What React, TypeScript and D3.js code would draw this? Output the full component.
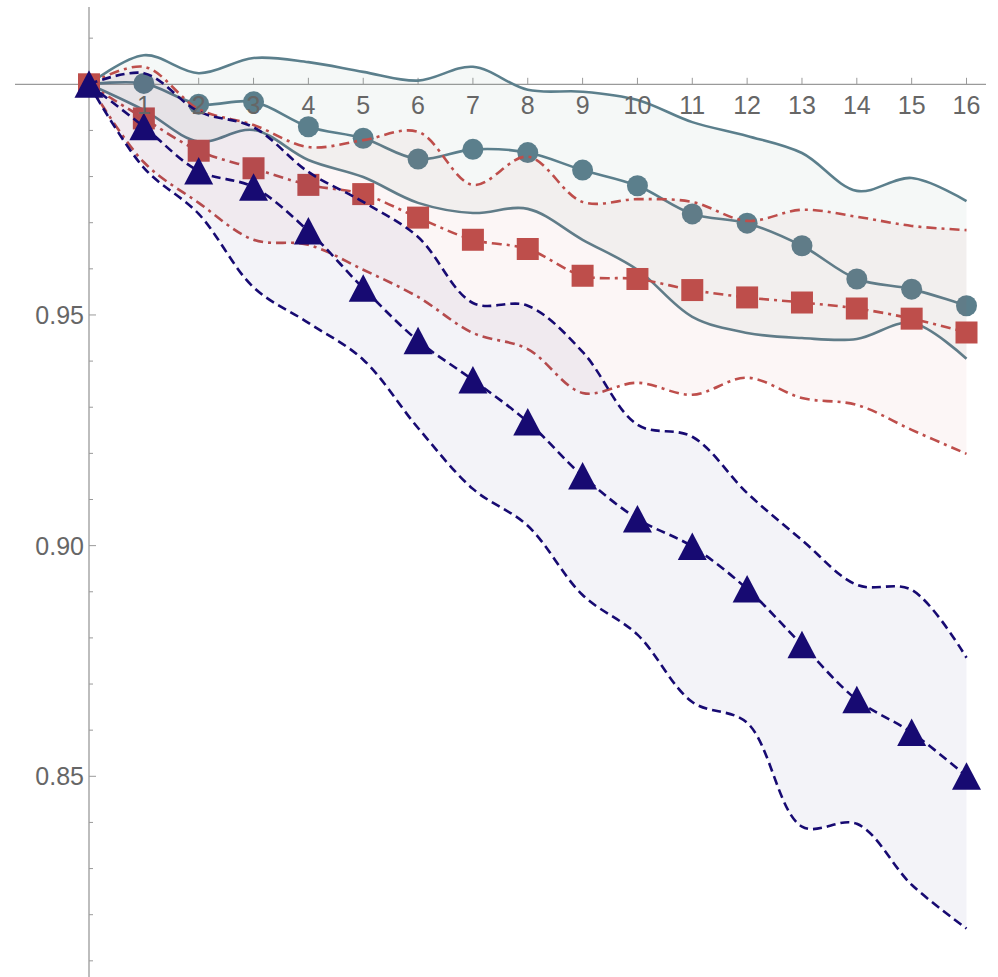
import * as d3 from "d3";

const W = 998;
const H = 977;

const steps = [0, 1, 2, 3, 4, 5, 6, 7, 8, 9, 10, 11, 12, 13, 14, 15, 16];

const circleMean = [1.0, 1.0002, 0.9957, 0.9962, 0.9908, 0.9883, 0.9838, 0.9859, 0.9852, 0.9814, 0.978, 0.9719, 0.9699, 0.965, 0.9578, 0.9556, 0.952];
const circleUpper = [1.0, 1.0063, 1.0024, 1.0057, 1.0048, 1.0027, 1.0008, 1.0038, 0.9988, 0.9984, 0.9966, 0.9918, 0.9888, 0.9851, 0.9769, 0.9797, 0.9747];
const circleLower = [1.0, 0.9944, 0.9876, 0.9901, 0.9836, 0.9799, 0.9743, 0.9721, 0.973, 0.9663, 0.9598, 0.9496, 0.9461, 0.945, 0.9448, 0.9483, 0.9405];

const squareMean = [1.0, 0.9926, 0.9856, 0.9818, 0.9782, 0.9762, 0.9711, 0.9663, 0.9643, 0.9585, 0.9578, 0.9554, 0.9538, 0.9527, 0.9514, 0.9492, 0.9462];
const squareUpper = [1.0, 1.0038, 0.9946, 0.9912, 0.9864, 0.9879, 0.9897, 0.9782, 0.9843, 0.9745, 0.9751, 0.9745, 0.9704, 0.9728, 0.9713, 0.9693, 0.9684];
const squareLower = [1.0, 0.9831, 0.9743, 0.9663, 0.9652, 0.9598, 0.9539, 0.9461, 0.9426, 0.9331, 0.9353, 0.9327, 0.9364, 0.932, 0.9305, 0.9251, 0.9199];

const triMean = [1.0, 0.9908, 0.9812, 0.9777, 0.9682, 0.9558, 0.9444, 0.9359, 0.9268, 0.9151, 0.9058, 0.8998, 0.8906, 0.8785, 0.8666, 0.8595, 0.85];
const triUpper = [1.0, 1.0024, 0.9941, 0.9907, 0.981, 0.9745, 0.9669, 0.9526, 0.952, 0.942, 0.9262, 0.9236, 0.9114, 0.9012, 0.8915, 0.8904, 0.8757];
const triLower = [1.0, 0.9819, 0.9719, 0.956, 0.9483, 0.9403, 0.9255, 0.9123, 0.9043, 0.8893, 0.8807, 0.8661, 0.8616, 0.8391, 0.8397, 0.8265, 0.817];

const xTicks = [1, 2, 3, 4, 5, 6, 7, 8, 9, 10, 11, 12, 13, 14, 15, 16];
const yMajor = [0.85, 0.9, 0.95];
const yMajorLabels = ["0.85", "0.90", "0.95"];
const yMinor = [0.81, 0.82, 0.83, 0.84, 0.86, 0.87, 0.88, 0.89, 0.91, 0.92, 0.93, 0.94, 0.96, 0.97, 0.98, 0.99, 1.01];

const x = d3.scaleLinear().domain([0, 16]).range([89, 966.5]);
const y = d3.scaleLinear().domain([0.85, 1.0]).range([776.3, 84.3]);

const series = [
  { key: "circle", color: "#5b7f8c", fill: "#6f9a94", fillOpacity: 0.07, dash: "none", mean: circleMean, upper: circleUpper, lower: circleLower },
  { key: "square", color: "#be4e4b", fill: "#be4e4b", fillOpacity: 0.05, dash: "10,5,3,5", mean: squareMean, upper: squareUpper, lower: squareLower },
  { key: "tri", color: "#170a72", fill: "#170a72", fillOpacity: 0.05, dash: "9,5", mean: triMean, upper: triUpper, lower: triLower },
];

const curve = d3.curveCatmullRom.alpha(0.5);
const lineGen = d3.line<number>().x((_, i) => x(steps[i])).y((v) => y(v)).curve(curve);

function bandPath(upper: number[], lower: number[]) {
  const area = d3
    .area<number>()
    .x((_, i) => x(steps[i]))
    .y0((_, i) => y(lower[i]))
    .y1((v) => y(v))
    .curve(curve);
  return area(upper) || "";
}

function Marker({ kind, cx, cy, color }: { kind: string; cx: number; cy: number; color: string }) {
  if (kind === "circle") return <circle cx={cx} cy={cy} r={10.5} fill={color} />;
  if (kind === "square") return <rect x={cx - 11} y={cy - 11} width={22} height={22} fill={color} />;
  return <path d={`M${cx},${cy - 14}L${cx + 14.5},${cy + 13.5}L${cx - 14.5},${cy + 13.5}Z`} fill={color} />;
}

export default function App() {
  const font = "'Liberation Sans', Arial, sans-serif";
  const axisColor = "#9a9a9a";
  const labelColor = "#666666";
  const y0 = y(1.0);
  const x0 = x(0);

  return (
    <svg width={W} height={H} style={{ position: "absolute", left: 0, top: 0, background: "#fff" }}>
      {/* axes */}
      <line x1={15} x2={986} y1={y0} y2={y0} stroke={axisColor} strokeWidth={1.3} />
      <line x1={x0} x2={x0} y1={7} y2={H} stroke={axisColor} strokeWidth={1.3} />
      {xTicks.map((t) => (
        <line key={`xt${t}`} x1={x(t)} x2={x(t)} y1={y0} y2={y0 - 6.5} stroke={axisColor} strokeWidth={1} />
      ))}
      {yMajor.map((t) => (
        <line key={`ym${t}`} x1={x0} x2={x0 + 7} y1={y(t)} y2={y(t)} stroke={axisColor} strokeWidth={1} />
      ))}
      {yMinor.map((t) => (
        <line key={`yn${t}`} x1={x0} x2={x0 + 4} y1={y(t)} y2={y(t)} stroke={axisColor} strokeWidth={1} />
      ))}

      {series.map((s) => (
        <g key={s.key}>
          <path d={bandPath(s.upper, s.lower)} fill={s.fill} fillOpacity={s.fillOpacity} stroke="none" />
          <path d={lineGen(s.upper) || ""} fill="none" stroke={s.color} strokeWidth={2.6} strokeDasharray={s.dash} />
          <path d={lineGen(s.lower) || ""} fill="none" stroke={s.color} strokeWidth={2.6} strokeDasharray={s.dash} />
          <path d={lineGen(s.mean) || ""} fill="none" stroke={s.color} strokeWidth={2.6} strokeDasharray={s.dash} />
          {s.mean.map((v, i) => (
            <Marker key={i} kind={s.key} cx={x(steps[i])} cy={y(v)} color={s.color} />
          ))}
        </g>
      ))}

      {/* tick labels */}
      {xTicks.map((t) => (
        <text key={`xl${t}`} x={x(t)} y={y0 + 29.5} textAnchor="middle" fontFamily={font} fontSize={25} fill={labelColor}>
          {t}
        </text>
      ))}
      {yMajor.map((t, i) => (
        <text key={`yl${t}`} x={x0 - 5} y={y(t) + 9} textAnchor="end" fontFamily={font} fontSize={25} fill={labelColor}>
          {yMajorLabels[i]}
        </text>
      ))}
    </svg>
  );
}
